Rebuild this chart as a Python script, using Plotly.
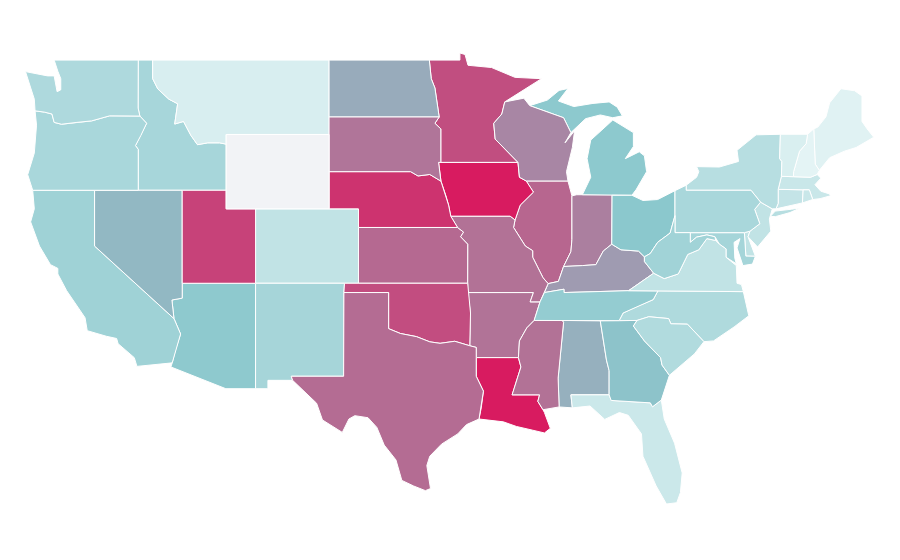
import plotly.graph_objects as go

states = ["AL","AZ","AR","CA","CO","CT","DE","DC","FL","GA","ID","IL","IN","IA","KS","KY","LA","ME","MD","MA",
          "MI","MN","MS","MO","MT","NE","NV","NH","NJ","NM","NY","NC","ND","OH","OK","OR","PA","RI","SC","SD",
          "TN","TX","UT","VT","VA","WA","WV","WI","WY"]
values = [57,48.4,74.6,39.2,21,19.4,21,36,15.6,51.4,34.9,78.3,71,100,77.5,63,100,4.3,36,16.7,
          48.9,85.3,75,75,8.6,93,54.6,2.2,21,35.5,26.3,30.6,58.4,50,85.5,33.9,33.9,16.7,29.6,74,
          45.2,76.6,88.7,8,21,31.2,38.2,69,None]

low = (232, 246, 247)
mid = (139, 200, 205)
high = (216, 27, 96)
no_data = "#f2f3f6"

# geo subplots need the topojson from the cdn, so rough state outlines in lon/lat on plain axes
outlines = {
    "WA": [[(-124.7,48.38),(-123.2,48.15),(-122.75,48.15),(-122.55,47.3),(-122.3,47.4),(-122.3,48.0),(-122.5,48.4),(-122.75,49),(-117.03,49),(-117.04,46.42),(-116.92,45.99),(-118.98,46),(-119.3,45.93),(-120.2,45.73),(-121.2,45.65),(-122.25,45.55),(-122.75,45.65),(-122.9,46.1),(-123.4,46.2),(-124.05,46.27),(-124.1,46.9),(-124.4,47.6)]],
    "OR": [[(-124.05,46.27),(-123.4,46.2),(-122.9,46.1),(-122.75,45.65),(-122.25,45.55),(-121.2,45.65),(-120.2,45.73),(-119.3,45.93),(-118.98,46),(-116.92,45.99),(-116.46,45.6),(-116.85,44.95),(-117.22,44.4),(-117.03,44.2),(-117.03,42),(-124.21,42),(-124.55,42.84),(-124.1,44),(-123.95,45.5)]],
    "ID": [[(-117.03,49),(-116.05,49),(-116.05,48),(-115.7,47.45),(-114.95,46.9),(-114.35,46.65),(-114.55,45.56),(-113.95,45.7),(-113.45,44.95),(-113,44.45),(-112.3,44.55),(-111.5,44.55),(-111.05,44.48),(-111.05,42),(-117.03,42),(-117.03,44.2),(-117.22,44.4),(-116.85,44.95),(-116.46,45.6),(-116.92,45.99),(-117.04,46.42)]],
    "MT": [[(-116.05,49),(-104.05,49),(-104.05,45),(-111.05,45),(-111.05,44.48),(-111.5,44.55),(-112.3,44.55),(-113,44.45),(-113.45,44.95),(-113.95,45.7),(-114.55,45.56),(-114.35,46.65),(-114.95,46.9),(-115.7,47.45),(-116.05,48)]],
    "WY": [[(-111.05,45),(-104.05,45),(-104.05,41),(-111.05,41)]],
    "ND": [[(-104.05,49),(-97.23,49),(-97.1,48),(-96.85,47.5),(-96.56,45.94),(-104.05,45.94)]],
    "SD": [[(-104.05,45.94),(-96.56,45.94),(-96.85,45.6),(-96.45,45.3),(-96.45,43.5),(-96.6,43.5),(-96.44,42.49),(-97.2,42.85),(-98,42.77),(-98.5,43),(-104.05,43)]],
    "NE": [[(-104.05,43),(-98.5,43),(-98,42.77),(-97.2,42.85),(-96.44,42.49),(-96.1,41.7),(-95.92,41.2),(-95.77,40.6),(-95.31,40),(-102.05,40),(-102.05,41),(-104.05,41)]],
    "CO": [[(-109.05,41),(-102.05,41),(-102.05,37),(-109.05,37)]],
    "KS": [[(-102.05,40),(-95.31,40),(-94.9,39.75),(-95.1,39.5),(-94.61,39.1),(-94.62,37),(-102.05,37)]],
    "OK": [[(-103,37),(-94.62,37),(-94.43,35.4),(-94.48,33.64),(-95.5,33.88),(-96.5,33.77),(-97.2,33.85),(-98.1,34.13),(-99.2,34.3),(-100,34.56),(-100,36.5),(-103.04,36.5)]],
    "TX": [[(-103.04,36.5),(-100,36.5),(-100,34.56),(-99.2,34.3),(-98.1,34.13),(-97.2,33.85),(-96.5,33.77),(-95.5,33.88),(-94.48,33.64),(-94.04,33.55),(-94.04,33),(-94.04,32),(-93.55,31.2),(-93.7,30.3),(-93.85,29.7),(-94.7,29.4),(-95.3,28.9),(-96.4,28.35),(-97.2,27.7),(-97.4,27.2),(-97.15,25.96),(-97.5,25.85),(-98.3,26.1),(-99.1,26.4),(-99.5,27.5),(-100.3,28.3),(-100.8,29.25),(-101.4,29.77),(-102.3,29.88),(-102.7,29.7),(-103.15,28.98),(-104.5,29.65),(-104.9,30.55),(-106.53,31.78),(-106.62,32),(-103.06,32)]],
    "NM": [[(-109.05,37),(-103,37),(-103.04,36.5),(-103.06,32),(-106.62,32),(-106.53,31.78),(-108.21,31.78),(-108.21,31.33),(-109.05,31.33)]],
    "AZ": [[(-114.04,37),(-109.05,37),(-109.05,31.33),(-111.07,31.33),(-114.81,32.5),(-114.72,32.72),(-114.5,33.4),(-114.15,34.27),(-114.6,35.1),(-114.74,36.1),(-114.04,36.2)]],
    "UT": [[(-114.04,42),(-111.05,42),(-111.05,41),(-109.05,41),(-109.05,37),(-114.04,37)]],
    "NV": [[(-120,42),(-114.04,42),(-114.04,36.2),(-114.74,36.1),(-114.6,35.1),(-120,39)]],
    "CA": [[(-124.21,42),(-120,42),(-120,39),(-114.6,35.1),(-114.15,34.27),(-114.5,33.4),(-114.72,32.72),(-117.12,32.53),(-117.3,33),(-118.4,33.75),(-118.5,34.03),(-119.2,34.15),(-120.5,34.45),(-120.65,35.15),(-121.9,36.6),(-122.5,37.5),(-122.5,37.8),(-123,38),(-123.75,39),(-124.35,40.3),(-124.1,41)]],
    "MN": [[(-97.23,49),(-95.15,49),(-95.15,49.38),(-94.8,49.3),(-94.6,48.72),(-93,48.6),(-91.4,48.07),(-89.6,48),(-92.1,46.75),(-92.3,46.1),(-92.85,45.6),(-92.75,44.75),(-91.2,43.5),(-96.45,43.5),(-96.45,45.3),(-96.85,45.6),(-96.56,45.94),(-96.85,47.5),(-97.1,48)]],
    "IA": [[(-96.6,43.5),(-91.2,43.5),(-91.1,42.7),(-90.64,42.5),(-90.15,41.9),(-91.05,41.2),(-91.4,40.4),(-91.73,40.6),(-95.77,40.6),(-95.92,41.2),(-96.1,41.7),(-96.44,42.49)]],
    "MO": [[(-95.77,40.6),(-91.73,40.6),(-91.4,40.4),(-91.5,40),(-90.7,39),(-90.2,38.75),(-90.2,38.4),(-89.5,37.3),(-89.15,36.98),(-89.4,36.5),(-89.7,36),(-90.37,36),(-90.15,36.5),(-94.62,36.5),(-94.62,37),(-94.61,39.1),(-95.1,39.5),(-94.9,39.75),(-95.31,40)]],
    "AR": [[(-94.62,36.5),(-90.15,36.5),(-90.37,36),(-89.7,36),(-90.1,35),(-90.6,34.6),(-91.1,33.9),(-91.17,33),(-94.04,33),(-94.04,33.55),(-94.48,33.64),(-94.43,35.4)]],
    "LA": [[(-94.04,33),(-91.17,33),(-91,32.5),(-91.6,31),(-89.73,31),(-89.85,30.65),(-89.5,30.2),(-89.4,30.05),(-89,29.2),(-89.4,28.95),(-90.2,29.1),(-91.3,29.3),(-92.2,29.55),(-93.85,29.7),(-93.7,30.3),(-93.55,31.2),(-94.04,32)]],
    "MS": [[(-90.1,35),(-88.2,35),(-88.1,34.9),(-88.47,31.9),(-88.4,30.35),(-89.5,30.2),(-89.85,30.65),(-89.73,31),(-91.6,31),(-91,32.5),(-91.17,33),(-91.1,33.9),(-90.6,34.6)]],
    "AL": [[(-88.2,35),(-85.6,34.98),(-85.18,32.87),(-85,32.3),(-85,31),(-87.6,31),(-87.5,30.3),(-88.4,30.35),(-88.47,31.9),(-88.1,34.9)]],
    "TN": [[(-90.1,35),(-88.2,35),(-85.6,34.98),(-84.32,34.99),(-84.05,35.4),(-83.1,35.75),(-82,36.12),(-81.68,36.59),(-83.68,36.6),(-88.07,36.5),(-88.07,36.68),(-89.4,36.5),(-89.7,36)]],
    "KY": [[(-89.4,36.5),(-88.07,36.68),(-88.07,36.5),(-83.68,36.6),(-81.97,37.54),(-82.6,38.17),(-82.6,38.42),(-83,38.73),(-84.2,38.8),(-84.82,39.1),(-85.4,38.73),(-85.9,38),(-86.8,37.95),(-87.6,37.9),(-88.1,37.9),(-88.45,37.1),(-89.15,36.98)]],
    "IL": [[(-90.64,42.5),(-87.8,42.5),(-87.53,41.7),(-87.53,39.35),(-87.6,38.7),(-88.1,37.9),(-88.45,37.1),(-89.15,36.98),(-89.5,37.3),(-90.2,38.4),(-90.2,38.75),(-90.7,39),(-91.5,40),(-91.4,40.4),(-91.05,41.2),(-90.15,41.9)]],
    "IN": [[(-87.53,41.7),(-87.2,41.76),(-84.8,41.76),(-84.82,39.1),(-85.4,38.73),(-85.9,38),(-86.8,37.95),(-87.6,37.9),(-88.1,37.9),(-87.6,38.7),(-87.53,39.35)]],
    "OH": [[(-84.8,41.73),(-83.45,41.73),(-82.7,41.45),(-81.7,41.5),(-80.52,41.98),(-80.52,40.64),(-80.85,39.7),(-81.7,39.2),(-82.2,38.6),(-82.6,38.42),(-83,38.73),(-84.2,38.8),(-84.82,39.1)]],
    "WI": [[(-92.1,46.75),(-90.8,46.95),(-90.4,46.55),(-88.1,45.9),(-87.6,45.1),(-88,44.55),(-87.35,45.2),(-87.5,44.3),(-87.9,43),(-87.8,42.5),(-90.64,42.5),(-91.1,42.7),(-91.2,43.5),(-92.75,44.75),(-92.85,45.6),(-92.3,46.1)]],
    "MI": [[(-86.82,41.76),(-84.8,41.73),(-83.45,41.73),(-83.15,42.05),(-82.45,43),(-82.6,43.85),(-82.95,44.07),(-83.9,43.7),(-83.35,44.35),(-83.35,45.1),(-84.75,45.78),(-85.55,45.2),(-86.25,44.7),(-86.5,43.7),(-86.25,42.7)],
           [(-90.4,46.55),(-89.2,46.85),(-88.4,47.37),(-87.8,47.47),(-88.45,46.8),(-87.4,46.5),(-86.1,46.67),(-85,46.75),(-84.45,46.47),(-84.1,46),(-84.75,45.9),(-85.6,46.05),(-86.6,45.85),(-87.6,45.1),(-88.1,45.9)]],
    "PA": [[(-80.52,41.98),(-79.76,42.27),(-79.76,42),(-75.35,42),(-74.7,41.36),(-75.1,40.97),(-74.75,40.2),(-75.42,39.8),(-75.8,39.72),(-80.52,39.72)]],
    "NY": [[(-79.76,42.27),(-79.05,42.7),(-78.9,43),(-79.05,43.27),(-77.5,43.25),(-76.2,43.55),(-76.3,44.15),(-75,44.98),(-73.35,45.01),(-73.4,43.7),(-73.25,43.55),(-73.28,42.75),(-73.5,42.05),(-73.5,41.3),(-73.65,41),(-73.9,41),(-74.7,41.36),(-75.35,42),(-79.76,42)],
           [(-74.03,40.6),(-73.7,40.88),(-72.6,40.98),(-72,41.05),(-72.7,40.8),(-73.7,40.58)]],
    "NJ": [[(-74.7,41.36),(-73.9,41),(-74.1,40.45),(-74,39.8),(-74.9,38.95),(-75.55,39.5),(-75.42,39.8),(-74.75,40.2),(-75.1,40.97)]],
    "DE": [[(-75.8,39.72),(-75.42,39.8),(-75.55,39.5),(-75.05,38.45),(-75.7,38.46)]],
    "MD": [[(-79.48,39.72),(-75.8,39.72),(-75.7,38.46),(-75.05,38.45),(-75.25,38.03),(-75.9,37.95),(-76.3,38.9),(-76.1,39.4),(-76.5,39.2),(-76.45,38.35),(-76.35,38.05),(-77.05,38.4),(-77.05,38.85),(-77.5,39.1),(-77.8,39.5),(-78.35,39.6),(-79.05,39.48),(-79.48,39.2)]],
    "DC": [[(-77.12,38.93),(-77.04,39),(-76.91,38.89),(-77.04,38.79)]],
    "WV": [[(-80.52,40.64),(-80.52,39.72),(-79.48,39.72),(-79.48,39.2),(-79.05,39.48),(-78.35,39.6),(-77.8,39.5),(-77.75,39.3),(-78.35,39.4),(-78.9,38.8),(-79.65,38.55),(-80.3,37.5),(-81.25,37.25),(-81.97,37.54),(-82.6,38.17),(-82.6,38.42),(-82.2,38.6),(-81.7,39.2),(-80.85,39.7)]],
    "VA": [[(-83.68,36.6),(-81.97,37.54),(-81.25,37.25),(-80.3,37.5),(-79.65,38.55),(-78.9,38.8),(-78.35,39.4),(-77.75,39.3),(-77.5,39.1),(-77.05,38.85),(-77.05,38.4),(-76.35,37.95),(-76.3,37),(-76,36.93),(-75.87,36.55),(-81.68,36.59)]],
    "NC": [[(-84.32,34.99),(-84.05,35.4),(-83.1,35.75),(-82,36.12),(-81.68,36.59),(-75.87,36.55),(-75.5,35.25),(-76.5,34.65),(-77.9,33.9),(-78.55,33.86),(-79.67,34.8),(-80.8,34.82),(-80.95,35.1),(-82.3,35.2),(-83.1,35)]],
    "SC": [[(-83.1,35),(-82.3,35.2),(-80.95,35.1),(-80.8,34.82),(-79.67,34.8),(-78.55,33.86),(-79.2,33.2),(-80.9,32.05),(-81.4,32.6),(-81.5,33),(-82.6,33.9),(-83.35,34.7)]],
    "GA": [[(-85.6,34.98),(-83.1,35),(-83.35,34.7),(-82.6,33.9),(-81.5,33),(-81.4,32.6),(-80.9,32.05),(-81.45,30.72),(-82.05,30.36),(-82.2,30.57),(-84.86,30.7),(-85,31),(-85,32.3),(-85.18,32.87)]],
    "FL": [[(-87.6,31),(-85,31),(-84.86,30.7),(-82.2,30.57),(-82.05,30.36),(-81.45,30.72),(-81.25,29.7),(-80.55,28.4),(-80.03,26.8),(-80.15,25.75),(-80.4,25.2),(-81.1,25.13),(-81.8,26.1),(-82.7,27.7),(-82.8,28.9),(-83.7,29.9),(-84.3,30.05),(-85.3,29.68),(-86.3,30.4),(-87.5,30.3)]],
    "CT": [[(-73.5,42.05),(-71.8,42.02),(-71.85,41.32),(-73.65,41),(-73.5,41.3)]],
    "RI": [[(-71.8,42.02),(-71.38,42.02),(-71.15,41.5),(-71.85,41.32)]],
    "MA": [[(-73.5,42.05),(-73.28,42.75),(-72.46,42.73),(-71.3,42.7),(-70.85,42.85),(-70.6,42.65),(-71,42.3),(-70.6,41.95),(-70,41.8),(-69.95,41.7),(-70.65,41.55),(-71.15,41.5),(-71.38,42.02),(-71.8,42.02)]],
    "VT": [[(-73.35,45.01),(-71.5,45.01),(-71.6,44.5),(-72.05,44.1),(-72.45,43),(-72.46,42.73),(-73.28,42.75),(-73.25,43.55),(-73.4,43.7)]],
    "NH": [[(-71.5,45.01),(-71.08,45.3),(-70.98,43.4),(-70.7,43.07),(-70.85,42.85),(-71.3,42.7),(-72.46,42.73),(-72.45,43),(-72.05,44.1),(-71.6,44.5)]],
    "ME": [[(-71.08,45.3),(-70.8,45.4),(-70.25,45.95),(-70,46.7),(-69.23,47.46),(-68.3,47.35),(-67.8,47.07),(-67.8,45.7),(-67.45,45.3),(-67,44.85),(-68.2,44.3),(-69,44.1),(-70,43.75),(-70.7,43.07),(-70.98,43.4)]],
}


def color_for(value):
    if value is None:
        return no_data
    # low -> mid over the first half, mid -> high over the second
    a, b, t = (low, mid, value / 50) if value <= 50 else (mid, high, (value - 50) / 50)
    return "rgb({},{},{})".format(*[round(p + (q - p) * t) for p, q in zip(a, b)])


fig = go.Figure()
for st, val in zip(states, values):
    xs, ys = [], []
    for ring in outlines[st]:
        xs += [p[0] for p in ring] + [ring[0][0], None]
        ys += [p[1] for p in ring] + [ring[0][1], None]
    fig.add_trace(go.Scatter(x=xs, y=ys, mode="lines", fill="toself", fillcolor=color_for(val),
                             line=dict(color="white", width=1), name=st, hoverinfo="name"))

fig.update_xaxes(range=[-125.89, -64.67], visible=False)
fig.update_yaxes(range=[21.69, 51.80], visible=False)
fig.update_layout(width=900, height=560, margin=dict(l=0, r=0, t=0, b=0), showlegend=False,
                  paper_bgcolor="white", plot_bgcolor="white")
fig.write_html("out.html")
